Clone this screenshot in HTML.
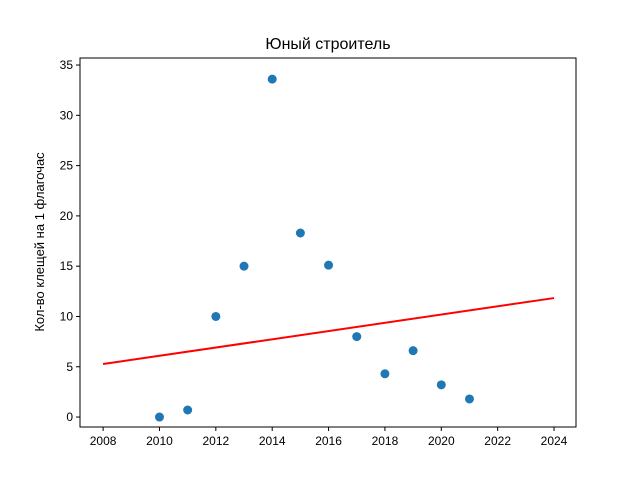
<!DOCTYPE html>
<html><head><meta charset="utf-8"><style>
body{margin:0;background:#fff;}
svg text{font-family:"Liberation Sans","DejaVu Sans",sans-serif;}
</style></head><body>
<svg id="chart" width="640" height="480" xmlns="http://www.w3.org/2000/svg">
<rect width="640" height="480" fill="#fff"/>
<text x="328" y="49" text-anchor="middle" font-size="16">Юный строитель</text>
<g id="plot"></g>
<rect x="80" y="58" width="496" height="369" fill="none" stroke="#000" stroke-width="1"/>
<text transform="translate(44,242) rotate(-90)" text-anchor="middle" font-size="13">Кол-во клещей на 1 флагочас</text>
</svg>
<script>
const years=[2010,2011,2012,2013,2014,2015,2016,2017,2018,2019,2020,2021];
const counts=[0,0.7,10,15,33.6,18.3,15.1,8,4.3,6.6,3.2,1.8];
const trendX=[2008,2024];
const trendY=[5.27,11.83];
const xTicks=[2008,2010,2012,2014,2016,2018,2020,2022,2024];
const yTicks=[0,5,10,15,20,25,30,35];
const X0=2007.18,X1=2024.78,Y0=-0.99,Y1=35.7;
const L=80,R=576,T=58,B=427;
const sx=v=>L+(v-X0)/(X1-X0)*(R-L);
const sy=v=>B-(v-Y0)/(Y1-Y0)*(B-T);
const g=document.getElementById('plot');
const NS='http://www.w3.org/2000/svg';
function mk(t,a){const e=document.createElementNS(NS,t);for(const k in a)e.setAttribute(k,a[k]);g.appendChild(e);return e;}
xTicks.forEach(v=>{
 const l=mk('line',{x1:sx(v),x2:sx(v),y1:B,y2:B+4,stroke:'#000'});
 
 
 const t=mk('text',{x:sx(v),y:B+18,'text-anchor':'middle','font-size':'12'});
 t.textContent=v;
 
 
});
yTicks.forEach(v=>{
 const l=mk('line',{x1:L-4,x2:L,y1:sy(v),y2:sy(v),stroke:'#000'});
 
 
 const t=mk('text',{x:L-7,y:sy(v)+4,'text-anchor':'end','font-size':'12'});
 t.textContent=v;
 
 
});
years.forEach((y,i)=>{
 const c=mk('circle',{cx:sx(y),cy:sy(counts[i]),r:4.5,fill:'#1f77b4'});
 
 
});
const tl=mk('line',{x1:sx(trendX[0]),y1:sy(trendY[0]),x2:sx(trendX[1]),y2:sy(trendY[1]),stroke:'red','stroke-width':2});


</script>
</body></html>
